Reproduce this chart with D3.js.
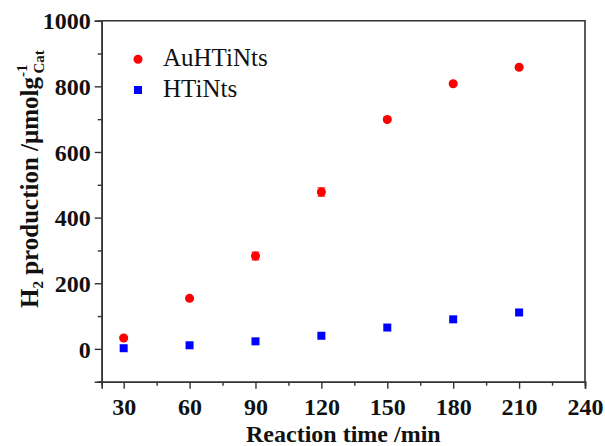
<!DOCTYPE html>
<html>
<head>
<meta charset="utf-8">
<script src="https://cdn.jsdelivr.net/npm/d3@7"></script>
<style>
  body { margin: 0; background: #fff; }
  svg { font-family: "Liberation Serif", "Times New Roman", serif; }
</style>
</head>
<body>
<div id="main"></div>
<script>
var times = [30, 60, 90, 120, 150, 180, 210]
var auHTiNts = [33, 154, 283, 478, 699, 808, 858]
var auErr = [3, 4, 12, 13, 5, 5, 4]
var hTiNts = [2, 11, 23, 40, 65, 90, 111]
var xTicks = [30, 60, 90, 120, 150, 180, 210, 240]
var yTicks = [0, 200, 400, 600, 800, 1000]

var W = 605, H = 446
var m = {left: 101.7, right: 20, top: 20.7, bottom: 64.3}

var svg = d3.select("#main").append("svg").attr("width", W).attr("height", H)

var x = d3.scaleLinear().domain([20, 240]).range([m.left, W - m.right])
var y = d3.scaleLinear().domain([-100, 1000]).range([H - m.bottom, m.top])

var axisColor = "#333"
var serif = '"Liberation Serif", "Times New Roman", serif'

// frame (top + right)
svg.append("path")
  .attr("d", `M${x(20)},${y(1000)}H${x(240)}V${y(-100)}`)
  .attr("fill", "none").attr("stroke", axisColor).attr("stroke-width", 1.6)

// minor ticks
svg.append("g").attr("transform", `translate(0,${y(-100)})`)
  .call(d3.axisBottom(x).tickValues(d3.range(45, 240, 30)).tickSize(4).tickFormat(""))
svg.append("g").attr("transform", `translate(${x(20)},0)`)
  .call(d3.axisLeft(y).tickValues(d3.range(-100, 1000, 200)).tickSize(4).tickFormat(""))

var xAxis = svg.append("g").attr("transform", `translate(0,${y(-100)})`)
  .call(d3.axisBottom(x).tickValues(xTicks).tickSize(7).tickPadding(10).tickFormat(d3.format("d")))
var yAxis = svg.append("g").attr("transform", `translate(${x(20)},0)`)
  .call(d3.axisLeft(y).tickValues(yTicks).tickSize(7).tickPadding(4).tickFormat(d3.format("d")))

svg.selectAll("g").attr("font-family", serif)
svg.selectAll(".domain").attr("stroke", axisColor).attr("stroke-width", 1.6)
svg.selectAll(".tick line").attr("stroke", axisColor).attr("stroke-width", 1.4)
svg.selectAll(".tick text")
  .attr("font-size", 24).attr("font-weight", "bold").attr("fill", "#111")
xAxis.selectAll(".tick text").attr("dy", "0.7em")
yAxis.selectAll(".tick text").attr("dy", "0.34em")

// x title
svg.append("text")
  .attr("x", (x(20) + x(240)) / 2).attr("y", 442)
  .attr("text-anchor", "middle").attr("font-size", 24).attr("font-weight", "bold")
  .attr("fill", "#111")
  .text("Reaction time /min")

// y title
var yt = svg.append("text")
  .attr("transform", "rotate(-90)")
  .attr("x", -308).attr("y", 38)
  .attr("font-size", 25).attr("font-weight", "bold").attr("fill", "#111")
yt.append("tspan").text("H")
yt.append("tspan").attr("font-size", 15).attr("dy", 5).text("2")
yt.append("tspan").attr("dy", -5).text("\u00a0production /\u03bcmolg")
yt.append("tspan").attr("font-size", 15).attr("dy", -11).text("-1")
yt.append("tspan").attr("font-size", 15).attr("dx", -9).attr("dy", 17).text("Cat")

// error bars
var errG = svg.append("g").attr("stroke", "#ff4040").attr("stroke-width", 1.2)
times.forEach(function(t, i) {
  var lo = y(auHTiNts[i] - auErr[i]), hi = y(auHTiNts[i] + auErr[i])
  errG.append("line").attr("x1", x(t)).attr("x2", x(t)).attr("y1", lo).attr("y2", hi)
  errG.append("line").attr("x1", x(t) - 4).attr("x2", x(t) + 4).attr("y1", lo).attr("y2", lo)
  errG.append("line").attr("x1", x(t) - 4).attr("x2", x(t) + 4).attr("y1", hi).attr("y2", hi)
})

svg.selectAll("circle.au")
  .data(times)
  .enter()
  .append("circle")
  .attr("class", "au")
  .attr("cx", d => x(d))
  .attr("cy", (d, i) => y(auHTiNts[i]))
  .attr("r", 4.5)
  .attr("fill", "#ff0000")

svg.selectAll("rect.ht")
  .data(times)
  .enter()
  .append("rect")
  .attr("class", "ht")
  .attr("x", d => x(d) - 4)
  .attr("y", (d, i) => y(hTiNts[i]) - 4)
  .attr("width", 8).attr("height", 8)
  .attr("fill", "#0000ff")

// legend
svg.append("circle").attr("cx", 138).attr("cy", 59.3).attr("r", 4.5).attr("fill", "#ff0000")
svg.append("rect").attr("x", 134).attr("y", 86).attr("width", 8).attr("height", 8).attr("fill", "#0000ff")
svg.append("text").attr("x", 163).attr("y", 65.5).attr("font-size", 25).attr("fill", "#111").text("AuHTiNts")
svg.append("text").attr("x", 163).attr("y", 97).attr("font-size", 25).attr("fill", "#111").text("HTiNts")
</script>
</body>
</html>
